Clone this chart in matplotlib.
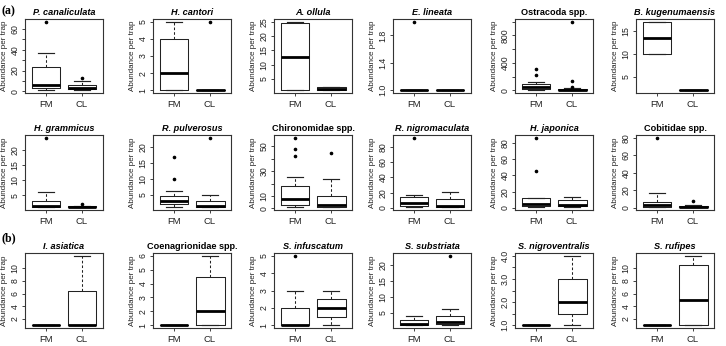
import matplotlib
matplotlib.use("Agg")
import matplotlib.pyplot as plt

plt.rcParams['font.family'] = ['Liberation Sans', 'DejaVu Sans']

titles = ["P. canaliculata", "H. cantori", "A. ollula", "E. lineata", "Ostracoda spp.", "B. kugenumaensis",
          "H. grammicus", "R. pulverosus", "Chironomidae spp.", "R. nigromaculata", "H. japonica", "Cobitidae spp.",
          "I. asiatica", "Coenagrionidae spp.", "S. infuscatum", "S. substriata", "S. nigroventralis", "S. rufipes"]
italic = [True, True, True, True, False, True,
          True, True, False, True, True, False,
          True, False, True, True, True, True]
groups = ["FM", "CL"]

# (whislo, q1, median, q3, whishi)
fm_stats = [(1, 3, 6, 23, 37), (1, 1, 2, 4, 5), (1, 1, 12.5, 24.5, 25), (1, 1, 1, 1, 1), (5, 20, 50, 90, 120), (10, 10, 13.5, 17, 17),
            (1, 1, 1.5, 3, 6), (1, 2, 3, 4.5, 6), (1, 3, 8, 18, 25), (1, 3, 6, 15, 17), (1, 2, 5, 12, 12), (0.5, 1, 3, 7, 17),
            (1, 1, 1, 1, 1), (1, 1, 1, 1, 1), (1, 1, 1, 2, 3), (1, 1, 1.5, 2.5, 4), (1, 1, 1, 1, 1), (1, 1, 1, 1, 1)]
cl_stats = [(1, 2, 3, 6, 10), (1, 1, 1, 1, 1), (1, 1, 1.5, 2, 2), (1, 1, 1, 1, 1), (0, 0, 5, 15, 30), (2, 2, 2, 2, 2),
            (1, 1, 1, 1.5, 1.5), (1, 1, 1.5, 3, 5), (1, 1, 3, 10, 24), (1, 1, 3, 12, 21), (1, 2, 4, 10, 14), (0.5, 0.5, 1, 2, 3),
            (1, 1, 1, 6.5, 12), (1, 1, 2, 4.5, 6), (1, 1.5, 2, 2.5, 3), (1, 1.5, 2, 4, 6), (1, 1.5, 2, 3, 4), (1, 1, 5, 10.5, 12)]
fm_out = [[67], [], [], [2], [220, 310], [],
          [24], [10, 17], [42, 48, 57], [92], [45, 86], [80],
          [], [], [5], [], [], []]
cl_out = [[13], [5], [], [], [50, 130, 1000], [],
          [2], [23], [45], [], [], [8],
          [], [], [], [23], [], []]

yticks = [[0, 10, 20, 30, 40, 50, 60], [1, 2, 3, 4, 5], [5, 10, 15, 20, 25], [1.0, 1.4, 1.8],
          [0, 200, 400, 600, 800, 1000], [5, 10, 15],
          [5, 10, 15, 20], [5, 10, 15, 20], [0, 10, 20, 30, 40, 50], [0, 20, 40, 60, 80],
          [0, 20, 40, 60, 80], [0, 20, 40, 60, 80],
          [2, 4, 6, 8, 10], [1, 2, 3, 4, 5, 6], [1, 2, 3, 4, 5], [5, 10, 15, 20],
          [1.0, 1.5, 2.0, 2.5, 3.0, 3.5, 4.0], [2, 4, 6, 8, 10]]
ytick_labels = [["0", "", "20", "", "40", "", "60"], ["1", "2", "3", "4", "5"], ["5", "10", "15", "20", "25"],
                ["1.0", "1.4", "1.8"], ["0", "", "400", "", "800", ""], ["5", "10", "15"],
                ["5", "10", "15", "20"], ["5", "10", "15", "20"], ["0", "10", "", "30", "", "50"],
                ["0", "20", "40", "60", "80"], ["0", "20", "40", "60", "80"], ["0", "20", "40", "60", "80"],
                ["2", "4", "6", "8", "10"], ["1", "2", "3", "4", "5", "6"], ["1", "2", "3", "4", "5"],
                ["5", "10", "15", "20"], ["1.0", "", "2.0", "", "3.0", "", "4.0"], ["2", "4", "6", "8", "10"]]

W, H = 726, 346
fig = plt.figure(figsize=(W / 100, H / 100), dpi=100)

lefts = [25, 153, 274, 393, 515, 636]
pw = 78
rows = [(19, 93), (135, 210), (253, 328)]

for i in range(18):
    r, c = divmod(i, 6)
    top, bot = rows[r]
    ax = fig.add_axes([lefts[c] / W, 1 - bot / H, pw / W, (bot - top) / H])
    stats = []
    for s, out, g in ((fm_stats[i], fm_out[i], groups[0]), (cl_stats[i], cl_out[i], groups[1])):
        stats.append(dict(whislo=s[0], q1=s[1], med=s[2], q3=s[3], whishi=s[4], fliers=out, label=g))
    ax.bxp(stats, positions=[1, 2], widths=0.8, capwidths=0.44,
           boxprops=dict(lw=0.75, color='#222222'),
           medianprops=dict(lw=2.0, color='black', solid_capstyle='butt'),
           whiskerprops=dict(lw=0.75, color='#222222', linestyle=(0, (2.5, 2))),
           capprops=dict(lw=0.85, color='#222222'),
           flierprops=dict(marker='o', ms=1.6, mfc='black', mec='black', lw=0))
    vals = list(fm_stats[i]) + list(cl_stats[i]) + fm_out[i] + cl_out[i]
    lo, hi = min(vals), max(vals)
    pad = (hi - lo) * 0.04 if hi > lo else 0.04
    ax.set_ylim(lo - pad, hi + pad)
    ax.set_xlim(0.42, 2.58)
    ax.set_yticks(yticks[i])
    ax.set_yticklabels(ytick_labels[i], rotation=90, va='center')
    ax.tick_params(axis='both', length=2.5, width=0.6, labelsize=6.3, pad=1.5, colors='#222222')
    ax.tick_params(axis='x', labelsize=6.8, pad=2.5)
    for sp in ax.spines.values():
        sp.set_linewidth(0.8)
        sp.set_color('#333333')
    ax.set_ylabel("Abundance per trap", fontsize=5.8, labelpad=1.5, color='#222222')
    ax.set_title(titles[i], fontsize=6.6, fontweight='bold',
                 style='italic' if italic[i] else 'normal', pad=3)

fig.text(2 / W, 1 - 11 / H, "(a)", fontsize=8.5, fontweight='bold', family='Liberation Serif', va='center')
fig.text(2 / W, 1 - 238 / H, "(b)", fontsize=8.5, fontweight='bold', family='Liberation Serif', va='center')

fig.savefig("out.png", dpi=100)
